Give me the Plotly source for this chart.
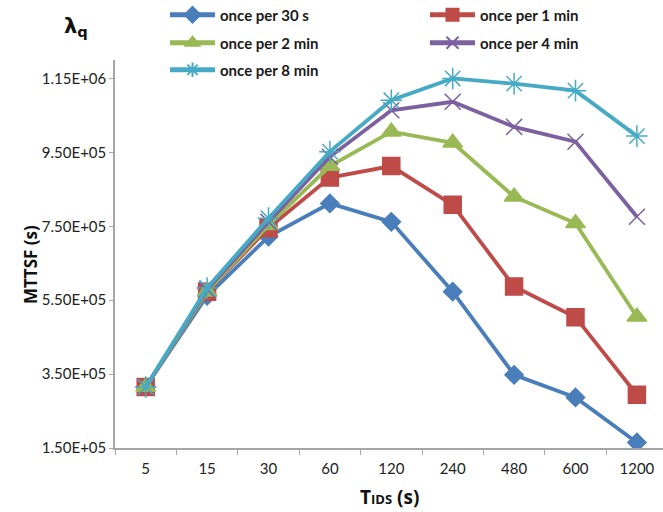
import plotly.graph_objects as go

categories = ["5", "15", "30", "60", "120", "240", "480", "600", "1200"]

once_30s = [3.15e5, 5.62e5, 7.22e5, 8.12e5, 7.62e5, 5.73e5, 3.48e5, 2.87e5, 1.65e5]
once_1min = [3.15e5, 5.73e5, 7.45e5, 8.82e5, 9.13e5, 8.08e5, 5.87e5, 5.04e5, 2.94e5]
once_2min = [3.15e5, 5.73e5, 7.53e5, 9.13e5, 1.006e6, 9.76e5, 8.30e5, 7.58e5, 5.05e5]
once_4min = [3.15e5, 5.78e5, 7.62e5, 9.38e5, 1.064e6, 1.087e6, 1.019e6, 9.79e5, 7.76e5]
once_8min = [3.15e5, 5.83e5, 7.72e5, 9.52e5, 1.091e6, 1.15e6, 1.136e6, 1.117e6, 9.94e5]

series_names = ["once per 30 s", "once per 1 min", "once per 2 min", "once per 4 min", "once per 8 min"]
y_ticks = [1.5e5, 3.5e5, 5.5e5, 7.5e5, 9.5e5, 1.15e6]
y_tick_text = ["1.50E+05", "3.50E+05", "5.50E+05", "7.50E+05", "9.50E+05", "1.15E+06"]

series = [once_30s, once_1min, once_2min, once_4min, once_8min]
colors = ["#4A7EBB", "#BE4B48", "#98B954", "#7D60A0", "#46AAC5"]
symbols = ["diamond", "square", "triangle-up", "x-thin-open", "asterisk-open"]
sizes = [14, 17, 17, 16, 18]
legends = ["legend", "legend", "legend2", "legend2", "legend3"]

fig = go.Figure()
for vals, name, col, sym, sz, lg in zip(series, series_names, colors, symbols, sizes, legends):
    fig.add_trace(go.Scatter(
        x=categories, y=vals, name=name, mode="lines+markers",
        line=dict(color=col, width=3.8),
        marker=dict(symbol=sym, size=sz, color=col, line=dict(color=col, width=1.5)),
        legend=lg,
    ))

font_fam = "Lato, Open Sans, Liberation Sans, sans-serif"
leg_common = dict(
    orientation="h", xanchor="left", yanchor="middle",
    font=dict(family=font_fam, size=15, color="#1a1a1a", weight="bold"),
    bgcolor="rgba(0,0,0,0)", entrywidth=200, entrywidthmode="pixels",
    itemwidth=45, itemsizing="constant",
)
plot_top, plot_bottom, plot_left, plot_right = 60, 448, 115, 663
H = plot_bottom - plot_top
def ypaper(py):
    return (plot_bottom - py) / H
def xpaper(px):
    return (px - plot_left) / (plot_right - plot_left)

fig.update_layout(
    width=663, height=512,
    margin=dict(l=plot_left, r=663 - plot_right, t=plot_top, b=512 - plot_bottom, autoexpand=False),
    paper_bgcolor="white", plot_bgcolor="white",
    showlegend=True,
    legend=dict(x=xpaper(165), y=ypaper(15), **leg_common),
    legend2=dict(x=xpaper(165), y=ypaper(43), **leg_common),
    legend3=dict(x=xpaper(165), y=ypaper(70), **leg_common),
    xaxis=dict(
        type="category", range=[-0.5, 8.425],
        showline=True, linecolor="#A6A6A6", linewidth=1.5,
        ticks="outside", tickson="boundaries", ticklen=5, tickcolor="#A6A6A6",
        showgrid=False, zeroline=False, ticklabelstandoff=6,
        tickfont=dict(family=font_fam, size=15, color="#222222"),
    ),
    yaxis=dict(
        range=[1.5e5, 1.2e6], tickvals=y_ticks, ticktext=y_tick_text,
        showline=True, linecolor="#A6A6A6", linewidth=1.5,
        ticks="outside", ticklen=4, tickcolor="#A6A6A6",
        showgrid=False, zeroline=False,
        tickfont=dict(family=font_fam, size=15, color="#222222"),
    ),
    annotations=[
        dict(text="<b>MTTSF (s)</b>", textangle=-90, xref="paper", yref="paper",
             x=xpaper(30), y=ypaper(265), xanchor="center", yanchor="middle", showarrow=False,
             font=dict(family="Open Sans, Liberation Sans, sans-serif", size=17, color="#111111")),
        dict(text="<b>T<span style='font-size:13px'>IDS</span> (s)</b>", xref="paper", yref="paper",
             x=xpaper(389), y=ypaper(497), xanchor="center", yanchor="middle", showarrow=False,
             font=dict(family="Open Sans, Liberation Sans, sans-serif", size=19, color="#111111")),
        dict(text="<b>λ<sub>q</sub></b>", xref="paper", yref="paper",
             x=xpaper(76), y=ypaper(27), xanchor="center", yanchor="middle", showarrow=False,
             font=dict(family="DejaVu Sans, Liberation Sans, sans-serif", size=21, color="#111111")),
    ],
)

fig.write_html("out.html")
